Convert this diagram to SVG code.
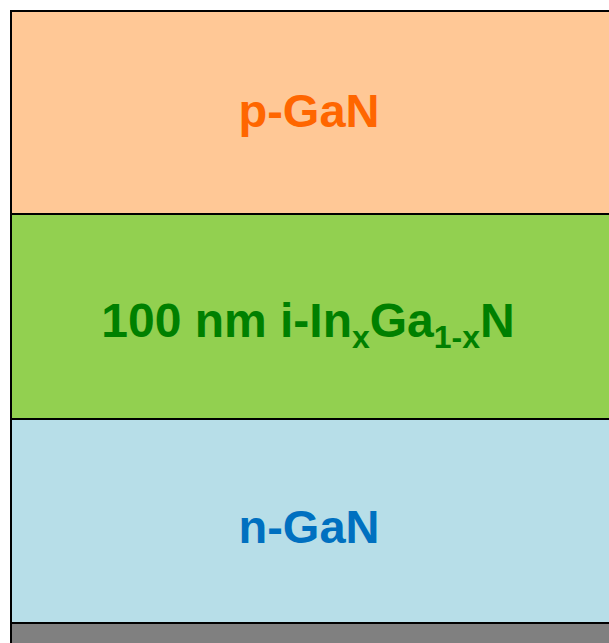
<svg xmlns="http://www.w3.org/2000/svg" width="609" height="643" viewBox="0 0 609 643">
  <style>
    .layer { stroke: #000000; stroke-width: 2; }
    .lbl { font-family: "Liberation Sans", Arial, sans-serif; font-weight: bold; text-anchor: middle; }
  </style>
  <rect x="0" y="0" width="609" height="643" fill="#ffffff"/>
  <!-- p-type cap layer -->
  <g id="p-gan">
    <rect class="layer" x="11" y="11" width="600" height="203" fill="#FFC896"/>
    <text class="lbl" x="309" y="127" font-size="47" fill="#FF6600">p-GaN</text>
  </g>
  <!-- intrinsic InGaN active layer -->
  <g id="i-ingan">
    <rect class="layer" x="11" y="214" width="600" height="205" fill="#92D050"/>
    <text class="lbl" x="308" y="337" font-size="48" fill="#008000">100 nm i-In<tspan font-size="32" dy="11">x</tspan><tspan dy="-11">Ga</tspan><tspan font-size="32" dy="11">1-x</tspan><tspan dy="-11">N</tspan></text>
  </g>
  <!-- n-type layer -->
  <g id="n-gan">
    <rect class="layer" x="11" y="419" width="600" height="204" fill="#B7DEE8"/>
    <text class="lbl" x="309" y="543" font-size="47" fill="#0070C0">n-GaN</text>
  </g>
  <!-- substrate -->
  <g id="substrate">
    <rect class="layer" x="11" y="623" width="600" height="30" fill="#808080"/>
  </g>
</svg>
